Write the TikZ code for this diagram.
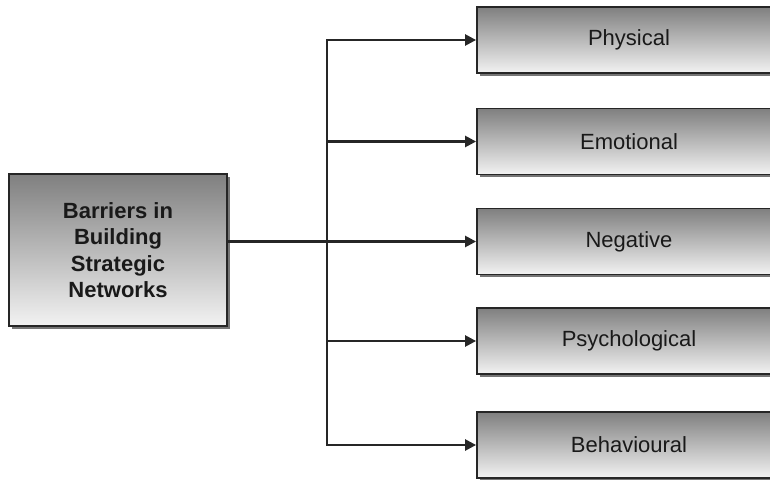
\documentclass[tikz,border=0pt]{standalone}
\usepackage{fontspec}
\setmainfont{Liberation Sans}
\usetikzlibrary{arrows.meta,shadows}
\begin{document}
\begin{tikzpicture}[x=1pt,y=-1pt,
  grad/.style={draw=black!85, line width=1.8pt,
    top color=black!50, bottom color=black!5,
    drop shadow={shadow xshift=2.5pt, shadow yshift=-2.5pt, fill=black!60, opacity=0.9}},
  catbox/.style={grad, minimum width=304pt, minimum height=66pt,
    font=\fontsize{22}{26}\selectfont, text=black!90},
  mainbox/.style={grad, minimum width=218pt, minimum height=152pt,
    align=center, font=\fontsize{22}{26.5}\selectfont\bfseries, text=black!90},
  link/.style={line width=2.4pt, draw=black!85},
  arr/.style={link, -{Triangle[length=11pt,width=11pt]}}]
\useasboundingbox (0,0) rectangle (770,479);

\node[mainbox] (main) at (118,250) {Barriers in\\Building\\Strategic\\ Networks};

\node[catbox] (phys) at (629,40)    {Physical};
\node[catbox] (emo)  at (629,141.5) {Emotional};
\node[catbox] (neg)  at (629,241.5) {Negative};
\node[catbox] (psy)  at (629,341)   {Psychological};
\node[catbox] (beh)  at (629,445)   {Behavioural};

\coordinate (spine) at (327,241.5);

% trunk from the main box and the vertical spine
\draw[link] (main.east |- neg.west) -- (spine);
\draw[link, line cap=rect] (spine |- phys.west) -- (spine |- beh.west);

% branches to each category
\foreach \b in {phys,emo,neg,psy,beh}
  \draw[arr] (spine |- \b.west) -- (\b.west);
\end{tikzpicture}
\end{document}
